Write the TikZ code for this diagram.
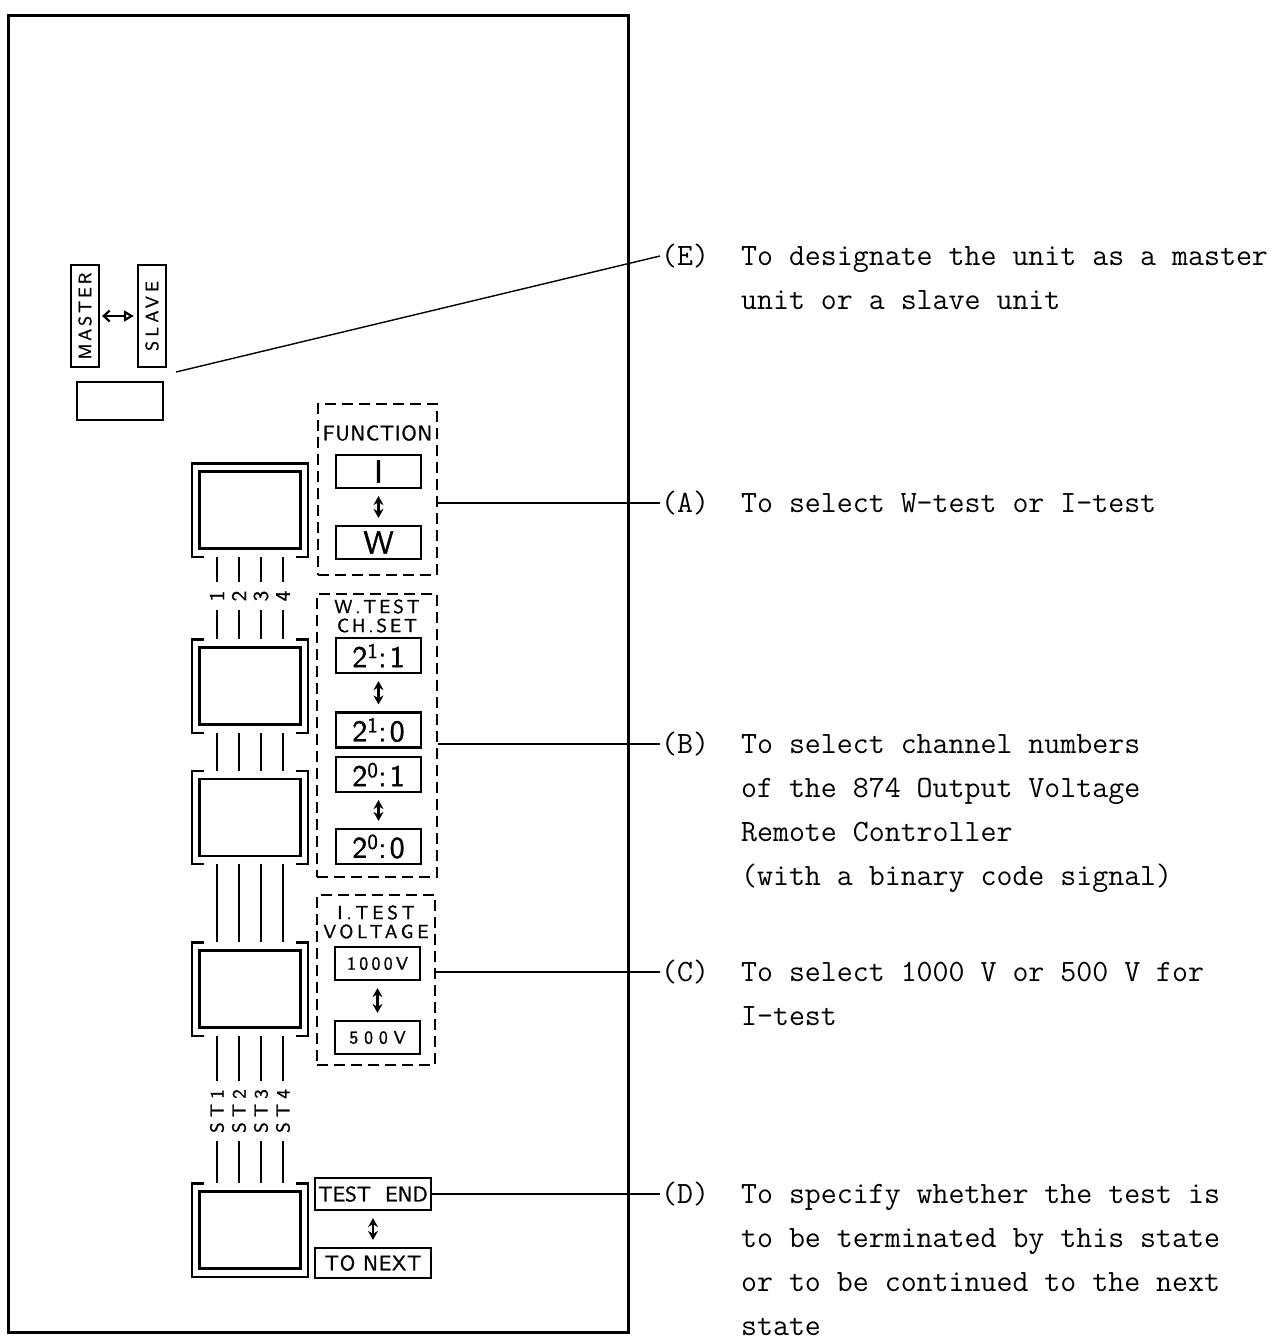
\documentclass[tikz,border=0pt]{standalone}
\usepackage{fontspec}
\usetikzlibrary{arrows.meta}
\newfontfamily\panelsf{lmsans10-regular}[Extension=.otf, FakeBold=1.2]

\begin{document}
\begin{tikzpicture}[x=1pt, y=-1pt, line width=2.2pt,
    lbl/.style 2 args={font=\panelsf\fontsize{#1}{#1}\selectfont\addfontfeatures{LetterSpace=#2}, inner sep=0pt},
    selbox/.style={draw, minimum width=85pt, minimum height=33pt, inner sep=0pt},
    grp/.style={draw, dash pattern=on 11pt off 6pt, inner sep=0pt},
    swbox/.style={draw, minimum width=101pt, minimum height=77pt, inner sep=0pt},
    swframe/.style={minimum width=114pt, minimum height=91pt, inner sep=0pt},
    wire/.style={line width=2.6pt},
    dblarrow/.style={{Stealth[length=9pt,width=10pt]}-{Stealth[length=9pt,width=10pt]},
                     shorten <=7pt, shorten >=7pt},
    msarrow/.style={{Straight Barb[length=6pt,width=11pt]}-{Triangle[open,length=10pt,width=11pt]},
                    shorten <=2pt, shorten >=3pt},
    leader/.style={line width=1.4pt},
    tag/.style={font=\ttfamily\fontsize{31}{44}\selectfont, inner sep=0pt, anchor=west},
    note/.style={tag, align=left, anchor=base west},
  ]
  \useasboundingbox (0,0) rectangle (1275,1339);

  % front panel
  \draw[line width=3pt] (8,15) rectangle (628,1332);

  % master / slave switch
  \node[selbox, rotate=90, minimum width=102pt, minimum height=28pt, lbl={18}{16}] (master) at (85,316) {MASTER};
  \node[selbox, rotate=90, minimum width=102pt, minimum height=28pt, lbl={18}{24}] (slave) at (152,316) {SLAVE};
  \draw[msarrow] (master) -- (slave);
  \node[draw, minimum width=86pt, minimum height=38pt] (msw) at (120,401) {};
  \coordinate (eStart) at (176,372);

  % state switches
  \foreach \k/\y in {1/510, 2/686, 3/817.5, 4/989, 5/1230}{
    \node[swframe] (fr\k) at (250,\y) {};
    \node[swbox] (sw\k) at (250,\y) {};
    \draw (fr\k.north west) ++(12,0) -| (fr\k.south west) -- ++(12,0);
    \draw (fr\k.north east) ++(-12,0) -| (fr\k.south east) -- ++(-12,0);
  }
  \draw (fr1.north west) -- (fr1.north east);
  \draw (fr5.south west) -- (fr5.south east);

  \foreach \i/\x in {1/217, 2/239, 3/261, 4/283}{
    \node[lbl={21}{0}, rotate=90, inner sep=8pt] (ch\i) at (\x,596) {\i};
    \node[lbl={19}{28}, rotate=90, inner sep=7pt] (st\i) at (\x,1111) {ST\i};
    \draw[wire] (fr1.south -| ch\i) -- (ch\i);
    \draw[wire] (ch\i) -- (fr2.north -| ch\i);
    \draw[wire] (fr2.south -| ch\i) -- (fr3.north -| ch\i);
    \draw[wire] (fr3.south -| ch\i) -- (fr4.north -| ch\i);
    \draw[wire] (fr4.south -| st\i) -- (st\i);
    \draw[wire] (st\i) -- (fr5.north -| st\i);
  }

  % function
  \node[grp, minimum width=119pt, minimum height=171pt] (func) at (377.5,489.5) {};
  \node[lbl={21}{3}] (funclbl) at (377.5,433) {FUNCTION};
  \node[selbox, lbl={32}{0}] (selI) at (378.5,471.5) {I};
  \node[selbox, lbl={32}{0}] (selW) at (378.5,542.5) {W};
  \draw[dblarrow] (selI) -- (selW);

  % W-test channel set
  \node[grp, minimum width=120pt, minimum height=283pt] (wtest) at (377,735.5) {};
  \node[lbl={19}{15}, align=center] (wlbl) at (377,616) {W.TEST\\CH.SET};
  \node[selbox, minimum height=35pt, lbl={30}{10}] (ch11) at (378.5,655.5) {2\textsuperscript{1}:1};
  \node[selbox, minimum height=35pt, lbl={30}{10}] (ch10) at (378.5,730) {2\textsuperscript{1}:0};
  \node[selbox, minimum height=35pt, lbl={30}{10}] (ch01) at (378.5,774.5) {2\textsuperscript{0}:1};
  \node[selbox, minimum height=35pt, lbl={30}{10}] (ch00) at (378.5,846.5) {2\textsuperscript{0}:0};
  \draw[dblarrow] (ch11) -- (ch10);
  \draw[dblarrow] (ch01) -- (ch00);

  % I-test voltage
  \node[grp, minimum width=118pt, minimum height=170pt] (itest) at (376,980) {};
  \node[lbl={19}{20}, align=center] (ilbl) at (376,922) {I.TEST\\VOLTAGE};
  \node[selbox, lbl={18}{18}] (v1000) at (377.5,963.5) {1000V};
  \node[selbox, lbl={18}{32}] (v500) at (377.5,1037.5) {500V};
  \draw[dblarrow] (v1000) -- (v500);

  % test end
  \node[selbox, minimum width=116pt, minimum height=32pt, lbl={21}{0}] (tend) at (373,1194) {TEST\ \ END};
  \node[selbox, minimum width=116pt, minimum height=30pt, lbl={21}{4}] (tnext) at (373,1263) {TO NEXT};
  \draw[dblarrow] (tend) -- (tnext);

  % explanations
  \node[tag] (tagE) at (660,256) {(E)};
  \node[tag] (tagA) at (660,503) {(A)};
  \node[tag] (tagB) at (660,744) {(B)};
  \node[tag] (tagC) at (660,972) {(C)};
  \node[tag] (tagD) at (660,1194) {(D)};

  \draw[leader] (eStart) -- (tagE.west);
  \draw[leader] (func.east |- tagA.west) -- (tagA.west);
  \draw[leader] (wtest.east |- tagB.west) -- (tagB.west);
  \draw[leader] (itest.east |- tagC.west) -- (tagC.west);
  \draw[leader] (tend.east) -- (tagD.west);

  \node[note] (noteE) at ([xshift=80pt, yshift=-44pt]tagE.base west) {To designate the unit as a master\\unit or a slave unit};
  \node[note] (noteA) at ([xshift=80pt]tagA.base west) {To select W-test or I-test};
  \node[note] (noteB) at ([xshift=80pt, yshift=-132pt]tagB.base west) {To select channel numbers\\of the 874 Output Voltage\\Remote Controller\\(with a binary code signal)};
  \node[note] (noteC) at ([xshift=80pt, yshift=-44pt]tagC.base west) {To select 1000 V or 500 V for\\I-test};
  \node[note] (noteD) at ([xshift=80pt, yshift=-132pt]tagD.base west) {To specify whether the test is\\to be terminated by this state\\or to be continued to the next\\state};
\end{tikzpicture}
\end{document}
